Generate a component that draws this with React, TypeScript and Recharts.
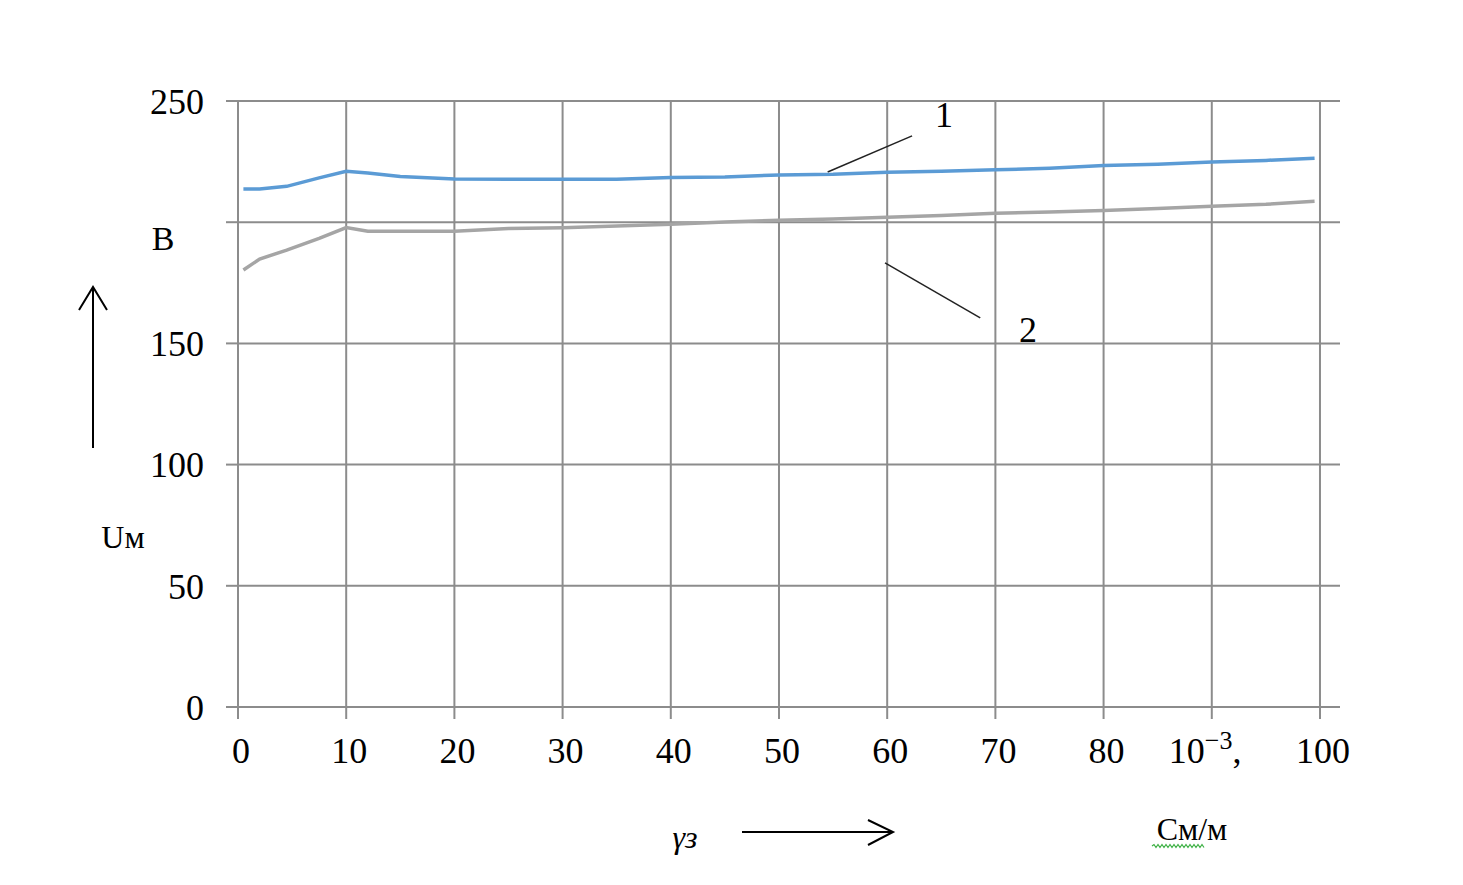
import { LineChart, Line, XAxis, YAxis, CartesianGrid, ReferenceLine } from 'recharts'

// conductivity, 10^-3 См/м
const gammaValues = [0.5, 2, 4.5, 7.5, 10, 12, 15, 20, 25, 30, 35, 40, 45, 50, 55, 60, 65, 70, 75, 80, 85, 90, 95, 99.5]
// curve 1 (blue), Uм, B
const curve1 = [213.7, 213.7, 214.8, 218.3, 221, 220.3, 218.9, 217.8, 217.7, 217.7, 217.7, 218.4, 218.6, 219.5, 219.8, 220.6, 221.0, 221.6, 222.3, 223.4, 223.9, 224.8, 225.5, 226.4]
// curve 2 (gray)
const curve2 = [180.3, 184.8, 188.5, 193.3, 197.8, 196.3, 196.3, 196.3, 197.4, 197.7, 198.4, 199.2, 200.1, 200.8, 201.3, 202.0, 202.8, 203.7, 204.2, 204.8, 205.7, 206.6, 207.4, 208.6]

const xTicks = [0, 10, 20, 30, 40, 50, 60, 70, 80, 90, 100]
const yTicks = [0, 50, 100, 150, 200, 250]

const data = gammaValues.map((x, i) => ({ x, c1: curve1[i], c2: curve2[i] }))

const FONT = '"Liberation Serif", "Times New Roman", serif'
const GRID = '#8c8c8c'

function XTick({ x, y, payload }: any) {
  if (payload.value === 90) {
    return (
      <text x={x - 43} y={y} dy="0.71em" textAnchor="start" fontSize={36} fontFamily={FONT} fill="#000">
        10
        <tspan dy={-14} fontSize={26}>−3</tspan>
        <tspan dy={14}>,</tspan>
      </text>
    )
  }
  return (
    <text x={x + 3} y={y} dy="0.71em" textAnchor="middle" fontSize={36} fontFamily={FONT} fill="#000">
      {payload.value}
    </text>
  )
}

// the 200 label is covered by the unit "B" in the original
function YTick({ x, y, payload }: any) {
  if (payload.value === 200) return <g />
  return (
    <text x={x} y={y} dy="0.355em" textAnchor="end" fontSize={36} fontFamily={FONT} fill="#000">
      {payload.value}
    </text>
  )
}

function wavy(x0: number, x1: number, y: number) {
  let d = `M${x0},${y}`
  let up = true
  for (let x = x0 + 2; x <= x1; x += 2) {
    d += ` L${x},${up ? y - 1.5 : y + 1.5}`
    up = !up
  }
  return d
}

export default function App() {
  return (
    <div style={{ position: 'absolute', left: 0, top: 0, width: 1463, height: 885, background: '#fff' }}>
      <LineChart
        width={1463}
        height={885}
        data={data}
        margin={{ top: 101, right: 123, left: 0, bottom: 0 }}
      >
        <CartesianGrid stroke={GRID} strokeWidth={2} verticalValues={xTicks} horizontalValues={yTicks} />
        <XAxis
          type="number"
          dataKey="x"
          domain={[0, 101.85]}
          ticks={xTicks}
          height={178}
          tickSize={12}
          tickMargin={18}
          tickLine={{ stroke: GRID, strokeWidth: 2 }}
          axisLine={{ stroke: GRID, strokeWidth: 2 }}
          tick={<XTick />}
          interval={0}
        />
        <YAxis
          type="number"
          domain={[0, 250]}
          ticks={yTicks}
          width={238}
          tickSize={12}
          tickMargin={22}
          tickLine={{ stroke: GRID, strokeWidth: 2 }}
          axisLine={{ stroke: GRID, strokeWidth: 2 }}
          tick={<YTick />}
          interval={0}
        />
        <ReferenceLine
          segment={[{ x: 54.5, y: 220.7 }, { x: 62.3, y: 235.6 }]}
          stroke="#222"
          strokeWidth={1.5}
          ifOverflow="visible"
        />
        <ReferenceLine
          segment={[{ x: 59.8, y: 183.2 }, { x: 68.6, y: 160.5 }]}
          stroke="#222"
          strokeWidth={1.5}
          ifOverflow="visible"
        />
        <Line type="linear" dataKey="c2" stroke="#a5a5a5" strokeWidth={3.5} dot={false} isAnimationActive={false} />
        <Line type="linear" dataKey="c1" stroke="#5b9bd5" strokeWidth={3.5} dot={false} isAnimationActive={false} />
      </LineChart>

      <svg
        width={1463}
        height={885}
        style={{ position: 'absolute', left: 0, top: 0, pointerEvents: 'none' }}
        fontFamily={FONT}
      >
        <text x={944} y={127} textAnchor="middle" fontSize={36} fill="#000">1</text>
        <text x={1028} y={342} textAnchor="middle" fontSize={36} fill="#000">2</text>
        <text x={163} y={250} textAnchor="middle" fontSize={34} fill="#000">B</text>
        <text x={123} y={548} textAnchor="middle" fontSize={32} fill="#000">Uм</text>
        {/* up arrow */}
        <line x1={93} y1={448} x2={93} y2={287} stroke="#000" strokeWidth={2} />
        <polyline points="79,310 93,287 107,310" fill="none" stroke="#000" strokeWidth={2} />
        {/* bottom arrow */}
        <text x={685} y={848} textAnchor="middle" fontSize={32} fontStyle="italic" fill="#000">γз</text>
        <line x1={742} y1={832} x2={893} y2={832} stroke="#000" strokeWidth={2} />
        <polyline points="868,820 893,832 868,845" fill="none" stroke="#000" strokeWidth={2} />
        <text x={1192} y={840} textAnchor="middle" fontSize={32} fill="#000">См/м</text>
        <path d={wavy(1152, 1204, 846)} fill="none" stroke="#3cb043" strokeWidth={1.2} />
      </svg>
    </div>
  )
}
